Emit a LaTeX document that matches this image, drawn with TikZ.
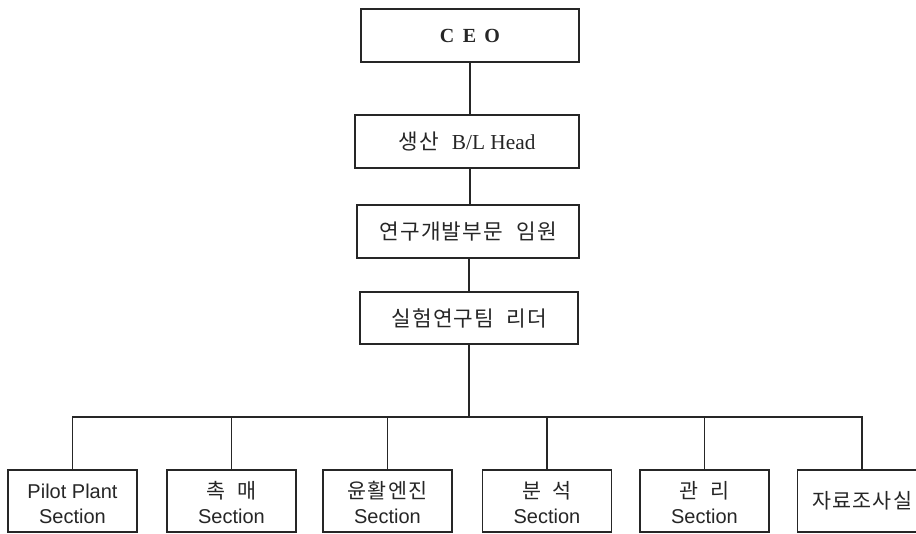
\documentclass[tikz,border=0pt]{standalone}
\usepackage{fontspec}
\setmainfont{Liberation Serif}
\newfontfamily\kr{Noto Sans CJK KR}
\newfontfamily\krs[LetterSpace=6]{Noto Sans CJK KR}
\newfontfamily\ar{Liberation Sans}
\newcommand{\topstrut}{\rule{0pt}{15.8pt}}
\begin{document}
\begin{tikzpicture}[x=0.75pt,y=-0.75pt,
  topbox/.style={draw=black!85, line width=1pt, text=black!85, minimum height=39.75pt, inner sep=0pt, anchor=center},
  botbox/.style={draw=black!85, line width=1pt, text=black!85, minimum width=96.75pt, minimum height=46.5pt, inner sep=0pt, align=center, font=\ar\fontsize{15pt}{18.7pt}\selectfont},
  krbot/.style={font=\krs\fontsize{15.5pt}{18.7pt}\selectfont},
  link/.style={draw=black!85, line width=1pt}]
\useasboundingbox (0,0) rectangle (916,533);
\clip (0,0) rectangle (916,533);
\fill[white] (0,0) rectangle (916,533);

\node[topbox, minimum width=163.5pt, font=\bfseries\fontsize{15pt}{18pt}\selectfont] (ceo) at (470,35.5) {C\hspace{0.42em}E\hspace{0.42em}O};
\node[topbox, minimum width=168pt, font=\fontsize{16pt}{19pt}\selectfont] (bl) at (467,141.5) {{\krs 생산}\hspace{0.6em}B/L Head};
\node[topbox, minimum width=166.5pt, font=\krs\fontsize{16pt}{19pt}\selectfont] (rd) at (468,231.5) {연구개발부문\hspace{0.6em}임원};
\node[topbox, minimum width=163.5pt, minimum height=39pt, font=\krs\fontsize{16pt}{19pt}\selectfont] (lead) at (469,318) {실험연구팀\hspace{0.55em}리더};

\node[botbox] (s1) at (72.5,501) {\topstrut Pilot Plant\\Section};
\node[botbox] (s2) at (231.5,501) {\topstrut{\krs\fontsize{15.5pt}{18.7pt}\selectfont 촉\hspace{0.55em}매}\\Section};
\node[botbox] (s3) at (387.5,501) {\topstrut{\krs\fontsize{15.5pt}{18.7pt}\selectfont 윤활엔진}\\Section};
\node[botbox] (s4) at (547,501) {\topstrut{\krs\fontsize{15.5pt}{18.7pt}\selectfont 분\hspace{0.55em}석}\\Section};
\node[botbox] (s5) at (704.5,501) {\topstrut{\krs\fontsize{15.5pt}{18.7pt}\selectfont 관\hspace{0.55em}리}\\Section};
\node[botbox, krbot] (s6) at (862,501) {자료조사실};

\coordinate (bar) at (469,417);
\draw[link] (ceo.south) -- (ceo.south |- bl.north);
\draw[link] (bl.south -| ceo.south) -- (ceo.south |- rd.north);
\draw[link] (rd.south -| lead.north) -- (lead.north);
\draw[link] (lead.south) -- (bar);
\draw[link] (s1.north) |- (bar) -| (s6.north);
\foreach \k in {2,3,4,5} \draw[link] (s\k.north) -- (s\k.north |- bar);
\end{tikzpicture}
\end{document}
